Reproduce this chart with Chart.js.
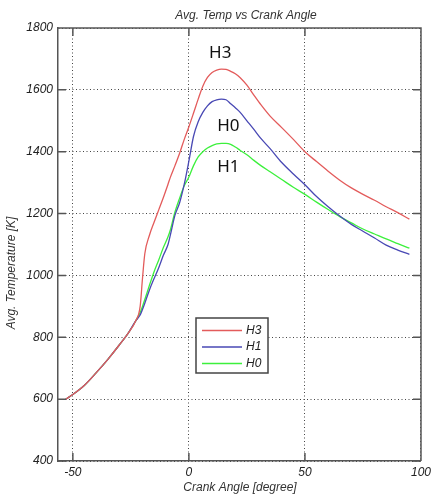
<!DOCTYPE html>
<html>
<head>
<meta charset="utf-8">
<script src="https://cdn.jsdelivr.net/npm/chart.js@4/dist/chart.umd.min.js"></script>
<style>
  html, body { margin: 0; padding: 0; background: #fff; }
  #wrap { width: 435px; height: 499px; position: relative; }
</style>
</head>
<body>
<div id="wrap"><canvas id="chart" width="435" height="499"></canvas></div>
<script>
// crank angle [degree] shared by all runs
const angles = [-53, -50, -45, -40, -35, -30, -26, -23, -21, -20, -19, -17, -15, -13, -11, -9, -8, -6, -4, -2,
  0, 2, 4, 6, 8, 10, 12, 14, 16, 18, 20, 22, 25, 28, 31, 35, 40, 45, 50, 55, 60, 65, 70, 75, 80, 85, 90, 95];

// average cylinder temperature [K]
const tempH3 = [600, 615, 645, 685, 728, 775, 815, 852, 900, 990, 1070, 1130, 1172, 1212, 1252, 1295, 1317, 1355, 1395, 1440,
  1481, 1525, 1570, 1612, 1640, 1656, 1664, 1667, 1666, 1660, 1652, 1640, 1615, 1583, 1552, 1515, 1478, 1440, 1400, 1368, 1337, 1308, 1283, 1262, 1243, 1222, 1203, 1182];
const tempH1 = [600, 615, 645, 685, 728, 775, 815, 852, 872, 890, 910, 953, 990, 1025, 1065, 1100, 1130, 1195, 1235, 1295,
  1370, 1450, 1497, 1527, 1548, 1562, 1568, 1570, 1568, 1555, 1542, 1528, 1500, 1472, 1443, 1410, 1365, 1328, 1293, 1255, 1222, 1192, 1165, 1143, 1121, 1098, 1082, 1068];
const tempH0 = [600, 615, 645, 685, 728, 775, 815, 852, 880, 900, 922, 968, 1012, 1050, 1090, 1125, 1147, 1205, 1250, 1290,
  1318, 1355, 1383, 1400, 1412, 1420, 1425, 1427, 1427, 1424, 1415, 1405, 1390, 1372, 1355, 1335, 1310, 1285, 1262, 1237, 1213, 1190, 1170, 1150, 1134, 1118, 1103, 1088];

const xTicks = [-50, 0, 50, 100];
const yTicks = [400, 600, 800, 1000, 1200, 1400, 1600, 1800];

// curve tags written inside the axes: [text, angle, temperature]
const curveTags = [["H3", 13.5, 1720], ["H0", 17, 1483], ["H1", 17, 1350]];

const AXIS_FONT = "italic 12px 'Liberation Sans', Arial, sans-serif";
const FRAME = "#555";

function series(label, data, color){
  return {
    label,
    data: angles.map((a, i) => ({ x: a, y: data[i] })),
    borderColor: color,
    borderWidth: 1.3,
    pointRadius: 0,
    cubicInterpolationMode: "monotone",
    fill: false
  };
}

// frame, inward ticks, texts and the boxed legend
const decor = {
  id: "decor",
  afterDatasetsDraw(chart){
    const { ctx, chartArea: a, scales: { x, y } } = chart;
    ctx.save();

    ctx.strokeStyle = FRAME;
    ctx.lineWidth = 1.5;
    ctx.beginPath();
    ctx.moveTo(a.left, a.top); ctx.lineTo(a.right, a.top); ctx.lineTo(a.right, a.bottom);
    const tl = 8;
    xTicks.forEach(v => {
      const px = x.getPixelForValue(v);
      ctx.moveTo(px, a.bottom); ctx.lineTo(px, a.bottom - tl);
      ctx.moveTo(px, a.top); ctx.lineTo(px, a.top + tl);
    });
    yTicks.forEach(v => {
      const py = y.getPixelForValue(v);
      ctx.moveTo(a.left, py); ctx.lineTo(a.left + tl, py);
      ctx.moveTo(a.right, py); ctx.lineTo(a.right - tl, py);
    });
    ctx.stroke();

    // curve tags
    ctx.fillStyle = "#111";
    ctx.font = "17px 'Noto Sans', 'Open Sans', sans-serif";
    ctx.textAlign = "center";
    ctx.textBaseline = "middle";
    curveTags.forEach(([t, ax, ty]) => ctx.fillText(t, x.getPixelForValue(ax), y.getPixelForValue(ty)));

    // titles
    ctx.fillStyle = "#333";
    ctx.font = AXIS_FONT;
    ctx.fillText("Avg. Temp vs Crank Angle", 246, 16);
    ctx.fillText("Crank Angle [degree]", 240, 488);
    ctx.save();
    ctx.translate(12, 273);
    ctx.rotate(-Math.PI / 2);
    ctx.fillText("Avg. Temperature [K]", 0, 0);
    ctx.restore();

    // legend
    const lx = 196, ly = 318, lw = 72, lh = 55;
    ctx.fillStyle = "#fff";
    ctx.fillRect(lx, ly, lw, lh);
    ctx.strokeStyle = "#444";
    ctx.lineWidth = 1.5;
    ctx.strokeRect(lx, ly, lw, lh);
    ctx.textAlign = "left";
    chart.data.datasets.forEach((ds, i) => {
      const ry = ly + 12.5 + i * 16.5;
      ctx.strokeStyle = ds.borderColor;
      ctx.lineWidth = 1.5;
      ctx.beginPath();
      ctx.moveTo(lx + 6, ry); ctx.lineTo(lx + 46, ry);
      ctx.stroke();
      ctx.fillStyle = "#222";
      ctx.fillText(ds.label, lx + 50, ry);
    });

    ctx.restore();
  }
};

const tickFont = { family: "'Liberation Sans', Arial, sans-serif", size: 12, style: "italic" };

new Chart(document.getElementById("chart"), {
  type: "line",
  data: {
    datasets: [
      series("H3", tempH3, "#e35b5b"),
      series("H1", tempH1, "#4848b4"),
      series("H0", tempH0, "#3cf03c")
    ]
  },
  options: {
    responsive: false,
    animation: false,
    layout: { padding: { left: 0, top: 28, right: 11, bottom: 0 } },
    plugins: { legend: { display: false }, tooltip: { enabled: false } },
    scales: {
      x: {
        type: "linear",
        min: -56.4,
        max: 100,
        afterBuildTicks: s => { s.ticks = xTicks.map(v => ({ value: v })); },
        afterFit: s => { s.height = 38; },
        ticks: { padding: 4, color: "#222", font: tickFont, maxRotation: 0, callback: v => String(v) },
        grid: { color: "#444", lineWidth: 1, drawTicks: false },
        border: { display: true, color: FRAME, width: 1.5, dash: [1, 2.5] }
      },
      y: {
        min: 400,
        max: 1800,
        afterBuildTicks: s => { s.ticks = yTicks.map(v => ({ value: v })); },
        afterFit: s => { s.width = 58; },
        ticks: { padding: 5, color: "#222", font: tickFont, callback: v => String(v) },
        grid: { color: "#444", lineWidth: 1, drawTicks: false },
        border: { display: true, color: FRAME, width: 1.5, dash: [1, 2.5] }
      }
    }
  },
  plugins: [decor]
});
</script>
</body>
</html>
